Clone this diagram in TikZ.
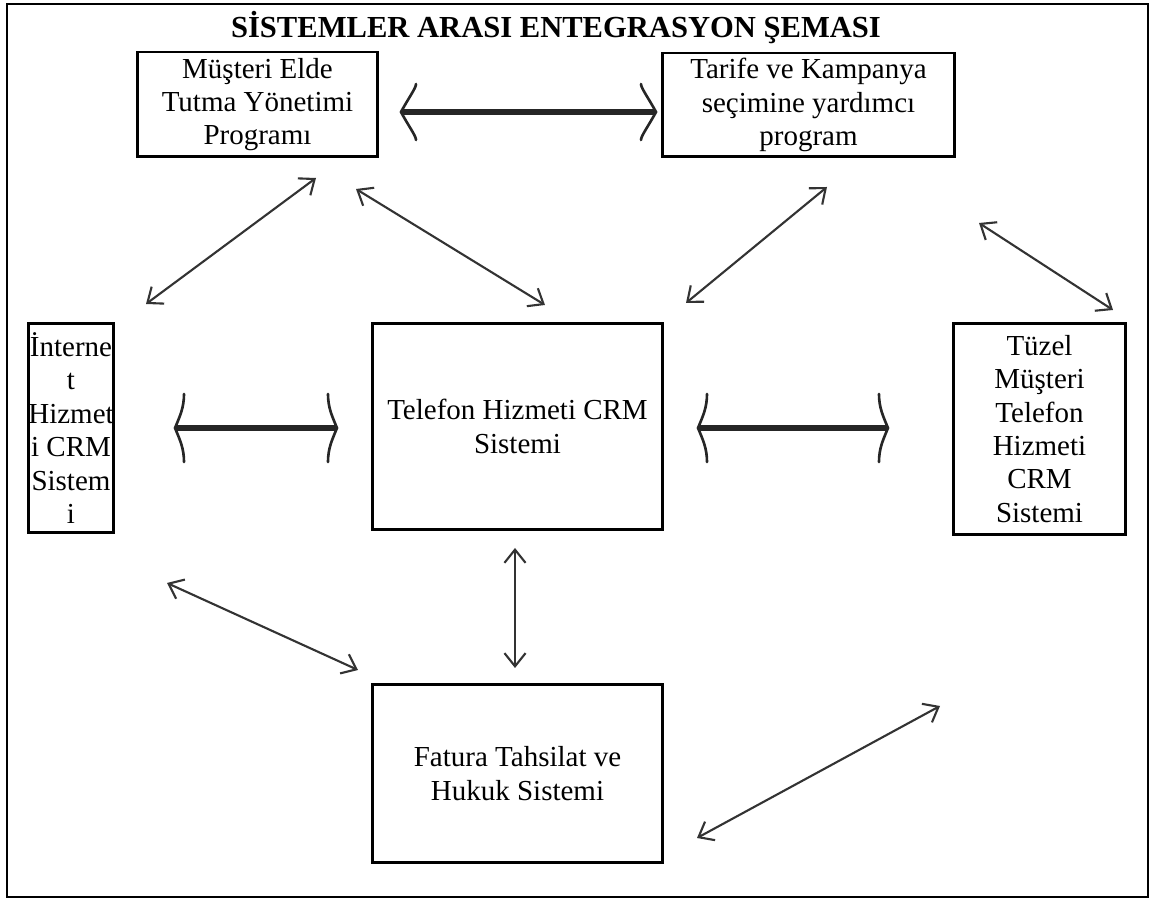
\documentclass[tikz,border=0pt]{standalone}
\usepackage{fontspec}
\setmainfont{Liberation Serif}
\usetikzlibrary{arrows.meta}
\begin{document}
\begin{tikzpicture}[x=0.02cm,y=-0.02cm,
    sysbox/.style={draw,line width=1.7pt,align=center,inner sep=2pt,font=\fontsize{16.5}{19}\selectfont},
    biarrow/.style={{Straight Barb[length=7.5pt,width=12pt]}-{Straight Barb[length=7.5pt,width=12pt]},line width=1.2pt,draw=black!80},
    fatline/.style={line width=3pt,draw=black!85},
    % #1 derinlik, #2 yari yukseklik, #3 uc egriligi, #4/#5 sivri uc kontrolu
    pics/kafa/.style n args={5}{code={
        \draw[line width=1.5pt,draw=black!85,line cap=round] (#1,-#2) .. controls (#1,-#3*#2) and (#4*#1,-#5*#2) .. (0,0)
            .. controls (#4*#1,#5*#2) and (#1,#3*#2) .. (#1,#2);}}]
    \useasboundingbox (0,0) rectangle (1154,901);
    \draw[line width=1.4pt] (7,4) rectangle (1148,897);
    \node (title) at (556,28) {\fontsize{17.4}{20}\selectfont\bfseries SİSTEMLER ARASI ENTEGRASYON ŞEMASI};

    % kutular
    \node[sysbox,minimum width=4.82cm,minimum height=2.10cm] (musteri) at (257.5,104.5) {Müşteri Elde\\Tutma Yönetimi\\Programı};
    \node[sysbox,minimum width=5.86cm,minimum height=2.08cm] (tarife) at (808.5,105) {Tarife ve Kampanya\\seçimine yardımcı\\program};
    \node[sysbox,inner xsep=0pt,minimum width=1.72cm,minimum height=4.20cm] (internet) at (71,428) {İnterne\\t\\Hizmet\\i CRM\\Sistem\\i};
    \node[sysbox,minimum width=5.82cm,minimum height=4.14cm] (telefon) at (517.5,426.5) {Telefon Hizmeti CRM\\Sistemi};
    \node[sysbox,minimum width=3.46cm,minimum height=4.24cm] (tuzel) at (1039.5,429) {Tüzel\\Müşteri\\Telefon\\Hizmeti\\CRM\\Sistemi};
    \node[sysbox,minimum width=5.82cm,minimum height=3.58cm] (fatura) at (517.5,773.5) {Fatura Tahsilat ve\\Hukuk Sistemi};

    % kalin oklar
    \coordinate (t1) at (401,112); \coordinate (t2) at (656,112);
    \coordinate (m1) at (175,428); \coordinate (m2) at (337,428);
    \coordinate (r1) at (698,428); \coordinate (r2) at (888,428);
    \draw[fatline] (t1) -- (t2);
    \pic at (t1) {kafa={15}{28}{0.85}{0.5}{0.5}};
    \pic[xscale=-1] at (t2) {kafa={15}{28}{0.85}{0.5}{0.5}};
    \draw[fatline] (m1) -- (m2);
    \pic at (m1) {kafa={9}{34}{0.6}{0.55}{0.35}};
    \pic[xscale=-1] at (m2) {kafa={9}{34}{0.6}{0.55}{0.35}};
    \draw[fatline] (r1) -- (r2);
    \pic at (r1) {kafa={9}{34}{0.6}{0.55}{0.35}};
    \pic[xscale=-1] at (r2) {kafa={9}{34}{0.6}{0.55}{0.35}};

    % ince oklar
    \coordinate (a1) at (146,304); \coordinate (a2) at (316,178);
    \coordinate (b1) at (356,189); \coordinate (b2) at (545,305);
    \coordinate (c1) at (686,303); \coordinate (c2) at (827,187);
    \coordinate (d1) at (979,223); \coordinate (d2) at (1113,310);
    \coordinate (e1) at (167,583); \coordinate (e2) at (358,670);
    \coordinate (f1) at (515,548); \coordinate (f2) at (515,668);
    \coordinate (g1) at (697,838); \coordinate (g2) at (940,706);
    \foreach \p in {a,b,c,d,e,f,g}
        \draw[biarrow] (\p1) -- (\p2);
\end{tikzpicture}
\end{document}
